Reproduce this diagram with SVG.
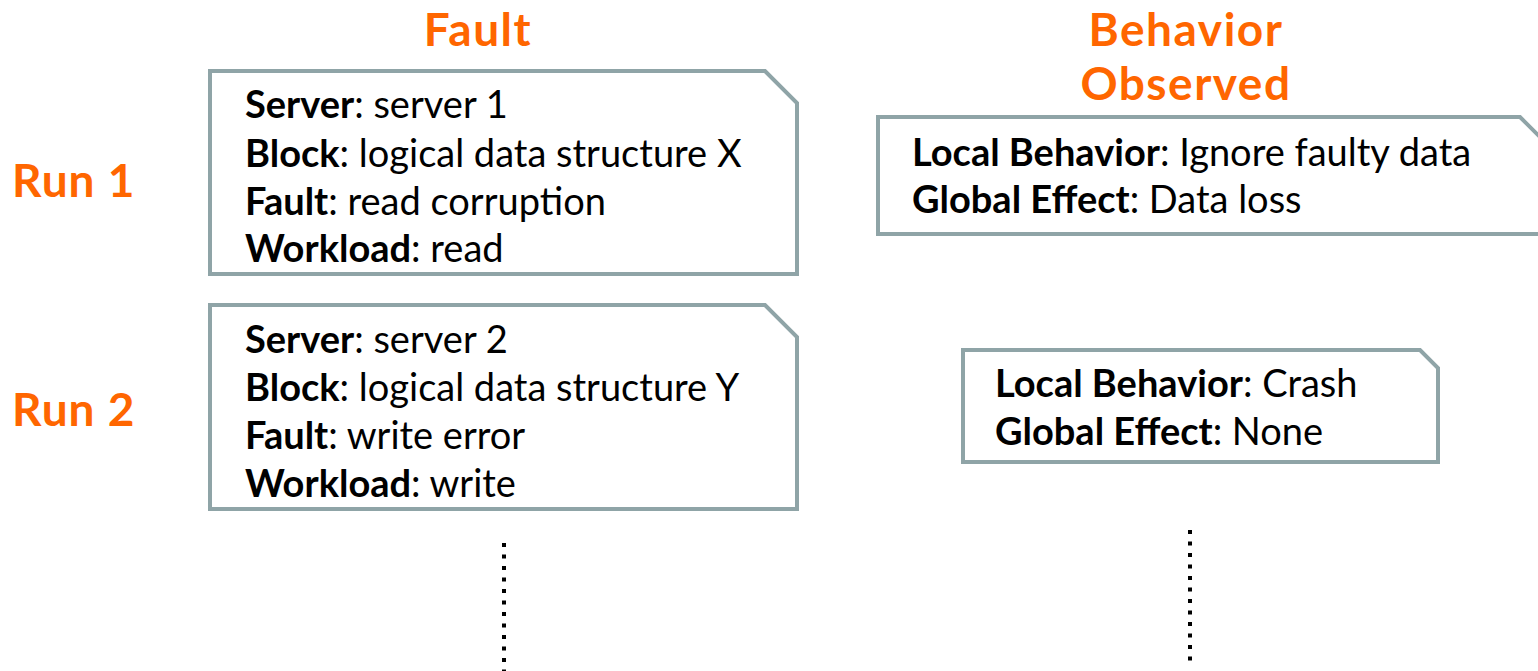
<svg xmlns="http://www.w3.org/2000/svg" width="1538" height="671" viewBox="0 0 1538 671">
  <style>
    .hdr { font-family: Lato, "Liberation Sans", sans-serif; font-weight: bold; font-size: 46px; letter-spacing: 1.5px; fill: #FF6600; }
    .run { font-family: Lato, "Liberation Sans", sans-serif; font-weight: bold; font-size: 46px; letter-spacing: 1px; fill: #FF6600; }
    .box { fill: #FFFFFF; stroke: #8FA4A7; stroke-width: 4; stroke-linejoin: miter; }
    .txt { font-family: Lato, "Liberation Sans", sans-serif; font-size: 38px; fill: #000000; }
    .txt .k { font-weight: bold; }
    .dots { stroke: #000000; stroke-width: 4; stroke-dasharray: 4 7.5; fill: none; }
  </style>
  <rect width="1538" height="671" fill="#FFFFFF"/>

  <g id="headers">
    <text class="hdr" x="478" y="46" text-anchor="middle">Fault</text>
    <text class="hdr" x="1186" y="46" text-anchor="middle">Behavior</text>
    <text class="hdr" x="1186" y="100" text-anchor="middle">Observed</text>
  </g>

  <g id="run-labels">
    <text class="run" x="12" y="197">Run 1</text>
    <text class="run" x="12" y="426">Run 2</text>
  </g>

  <g id="fault-run1">
    <path class="box" d="M210,71 H765 L797,103 V274 H210 Z"/>
    <text class="txt" x="245" y="118"><tspan class="k">Server</tspan>: server 1</text>
    <text class="txt" x="245" y="167"><tspan class="k">Block</tspan>: logical data structure X</text>
    <text class="txt" x="245" y="215"><tspan class="k">Fault</tspan>: read corruption</text>
    <text class="txt" x="245" y="262"><tspan class="k">Workload</tspan>: read</text>
  </g>

  <g id="fault-run2">
    <path class="box" d="M210,305 H765 L797,337 V509 H210 Z"/>
    <text class="txt" x="245" y="353"><tspan class="k">Server</tspan>: server 2</text>
    <text class="txt" x="245" y="401"><tspan class="k">Block</tspan>: logical data structure Y</text>
    <text class="txt" x="245" y="449"><tspan class="k">Fault</tspan>: write error</text>
    <text class="txt" x="245" y="497"><tspan class="k">Workload</tspan>: write</text>
  </g>

  <g id="behavior-run1">
    <path class="box" d="M878,117 H1520 L1542,139 V234 H878 Z"/>
    <text class="txt" x="912" y="166"><tspan class="k">Local Behavior</tspan>: Ignore faulty data</text>
    <text class="txt" x="912" y="213"><tspan class="k">Global Effect</tspan>: Data loss</text>
  </g>

  <g id="behavior-run2">
    <path class="box" d="M963,350 H1420 L1438,368 V462 H963 Z"/>
    <text class="txt" x="995" y="397"><tspan class="k">Local Behavior</tspan>: Crash</text>
    <text class="txt" x="995" y="445"><tspan class="k">Global Effect</tspan>: None</text>
  </g>

  <g id="connectors">
    <line class="dots" x1="504" y1="543" x2="504" y2="671"/>
    <line class="dots" x1="1190" y1="530" x2="1190" y2="662"/>
  </g>
</svg>
